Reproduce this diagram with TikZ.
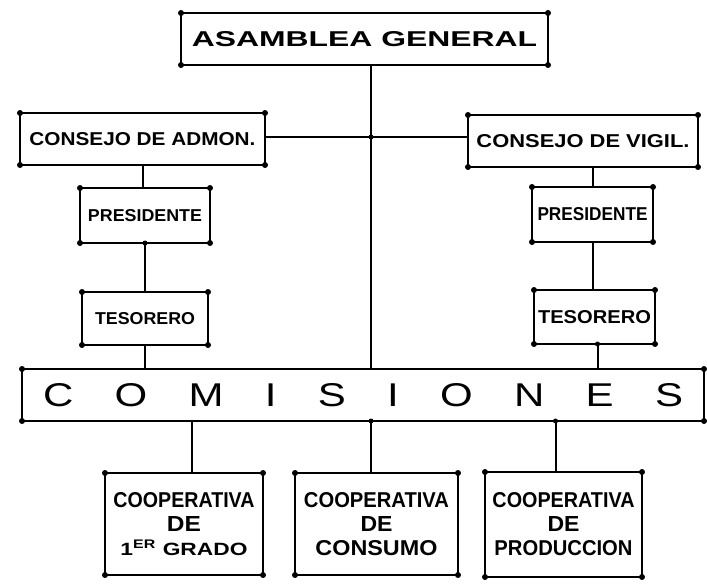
\documentclass[tikz,border=0pt]{standalone}
\usepackage{fontspec}
\setmainfont{Liberation Sans}
\newcommand{\fitlbl}[3]{\resizebox{#1pt}{#2pt}{\bfseries #3}}
\begin{document}
\begin{tikzpicture}[x=1pt,y=-1pt,
  box/.style={draw=black, line width=2.2pt, rectangle, inner sep=0pt, outer sep=0pt, align=center},
  conn/.style={draw=black, line width=2pt},
  multi/.style={font=\fontsize{10}{24}\selectfont}]
\useasboundingbox (0,0) rectangle (707,586);
\fill[white] (0,0) rectangle (707,586);

% boxes
\node[box, minimum width=367pt, minimum height=52pt] (asam) at (364.5,39)
  {\fitlbl{345}{15}{ASAMBLEA GENERAL}};
\node[box, minimum width=245pt, minimum height=52pt] (admon) at (142.5,139)
  {\fitlbl{226}{13}{CONSEJO DE ADMON.}};
\node[box, minimum width=130pt, minimum height=55pt] (presL) at (145,215.5)
  {\fitlbl{114}{12}{PRESIDENTE}};
\node[box, minimum width=126pt, minimum height=53pt] (tesL) at (145,318.5)
  {\fitlbl{100}{12}{TESORERO}};
\node[box, minimum width=230pt, minimum height=52pt] (vigil) at (583,141)
  {\fitlbl{213}{13}{CONSEJO DE VIGIL.}};
\node[box, minimum width=121pt, minimum height=55pt] (presR) at (592.5,214.5)
  {\fitlbl{110}{13}{PRESIDENTE}};
\node[box, minimum width=121pt, minimum height=54pt] (tesR) at (594.5,317)
  {\fitlbl{113}{13}{TESORERO}};
\node[box, minimum width=682pt, minimum height=52pt] (com) at (363,395)
  {\resizebox{640pt}{23pt}{\fontsize{20}{24}\selectfont\makebox[305pt][s]{C\hfill O\hfill M\hfill I\hfill S\hfill I\hfill O\hfill N\hfill E\hfill S}}};
\node[box, multi, minimum width=158pt, minimum height=102pt] (c1) at (184,524)
  {\fitlbl{141}{15}{COOPERATIVA}\\\fitlbl{34}{15}{DE}\\\fitlbl{127}{15}{1\textsuperscript{ER} GRADO}};
\node[box, multi, minimum width=163pt, minimum height=102pt] (c2) at (376.5,524)
  {\fitlbl{145}{15}{COOPERATIVA}\\\fitlbl{32}{15}{DE}\\\fitlbl{122}{15}{CONSUMO}};
\node[box, multi, minimum width=157pt, minimum height=105pt] (c3) at (563.5,524.5)
  {\fitlbl{142}{15}{COOPERATIVA}\\\fitlbl{32}{15}{DE}\\\fitlbl{138}{15}{PRODUCCION}};

% junction coordinate
\coordinate (mx) at (371,137);

% connectors
\draw[conn] (asam.south -| mx) -- (com.north -| mx);
\draw[conn] (admon.east |- mx) -- (vigil.west |- mx);
\draw[conn] (admon.south) -- (admon.south |- presL.north);
\draw[conn] (tesL.north) -- (tesL.north |- presL.south);
\draw[conn] (tesL.south) -- (tesL.south |- com.north);
\draw[conn] (presR.north) -- (presR.north |- vigil.south);
\draw[conn] (presR.south) -- (presR.south |- tesR.north);
\draw[conn] ([xshift=3pt]tesR.south) -- ([xshift=3pt]tesR.south |- com.north);
\draw[conn] ([xshift=8pt]c1.north) -- ([xshift=8pt]c1.north |- com.south);
\draw[conn] (c2.north -| mx) -- (com.south -| mx);
\draw[conn] ([xshift=-8pt]c3.north) -- ([xshift=-8pt]c3.north |- com.south);

% corner dots
\foreach \n in {asam,admon,presL,tesL,vigil,presR,tesR,com,c1,c2,c3}
  \foreach \a in {north east,north west,south east,south west}
    \fill (\n.\a) circle (3pt);
\fill (mx) circle (2.5pt);
\fill ([xshift=3pt]tesR.south) circle (2.5pt);
\fill (presL.south -| tesL.north) circle (2.5pt);
\fill (com.south -| mx) circle (2.5pt);
\fill ([xshift=-8pt]c3.north |- com.south) circle (2.5pt);
\end{tikzpicture}
\end{document}
